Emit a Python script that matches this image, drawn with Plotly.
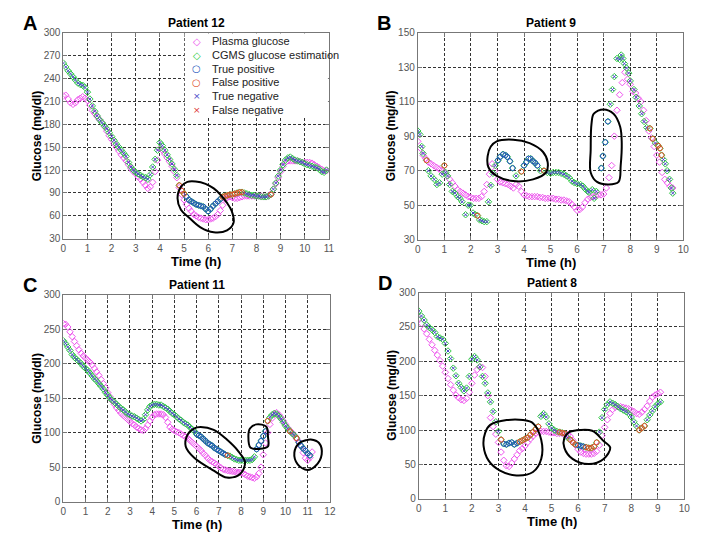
import numpy as np
import plotly.graph_objects as go

# ---------------- data ----------------
# Panel A - Patient 12, samples every 0.1 h from 0.0 h
a_plasma = [217, 218, 213, 208, 206, 208, 212, 214, 216, 214,
            211, 205, 198, 194, 190, 186, 182, 177, 171, 165,
            160, 155, 150, 145, 140, 136, 132, 127, 122, 118,
            115, 111, 108, 104, 100, 96, 98, 104, 118, 133,
            148, 146, 141, 136, 131, 125, 118, 110, 97, 88,
            81, 75, 70, 66, 62, 60, 58, 57, 56, 55,
            55, 56, 57, 59, 62, 67, 74, 82, 84, 85,
            84, 83, 83, 84, 85, 86, 86, 86, 86, 86,
            86, 86, 86, 85, 85, 86, 89, 95, 102, 110,
            118, 125, 130, 132, 132, 132, 132, 132, 131, 130,
            130, 130, 130, 129, 127, 125, 123, 121, 119, 119]
a_cgms = [260, 255, 250, 246, 242, 238, 234, 232, 231, 228,
          222, 213, 204, 197, 191, 186, 182, 178, 174, 169,
          164, 159, 154, 150, 146, 142, 138, 130, 124, 120,
          117, 115, 113, 111, 110, 108, 114, 124, 134, 146,
          156, 152, 146, 140, 134, 128, 121, 113, 100, 93,
          89, 85, 81, 79, 77, 75, 74, 73, 72, 69,
          66, 69, 73, 76, 79, 82, 85, 86, 87, 88,
          88, 89, 90, 91, 91, 90, 89, 88, 87, 87,
          86, 86, 85, 85, 85, 86, 88, 95, 103, 112,
          120, 127, 133, 136, 137, 135, 133, 132, 131, 130,
          128, 127, 126, 125, 124, 123, 121, 118, 117, 120]
# n = true negative, p = true positive, f = false positive, m = false negative
a_class = ("nnnnnnnnnn" "nnnnnnnnnn" "nnnnnnnnnn" "nnnnnnnnnn" "nnnnnnnnff"
           "fppppppppp" "ppppppffff" "fffffnnnnn" "nnnnnnfnnn" "nnnnnnnnnn"
           "nnnnnnnnnn")
a_loop_t = [5.48, 5.89, 6.23, 6.50, 6.78, 6.98, 7.05, 6.78, 6.23, 5.68, 5.20, 4.87, 4.73, 4.87, 5.14]
a_loop_g = [105, 102, 96, 88, 77, 66, 51, 41, 38.5, 45, 58, 68, 83, 98, 104.5]

# Panel B - Patient 9
b_plasma = [87, 83, 79, 77, 75, 74, 73, 72, 71, 70,
            69, 67, 65, 63, 61, 59, 58, 57, 56, 55,
            54.5, 54, 54, 54, 55, 58, 62, 68, 74, 70,
            65, 63.5, 63, 62.5, 62, 61, 60, 62, 61, 58,
            56, 55.5, 55, 55, 55, 55, 54.5, 54.5, 54, 54,
            54, 54, 53.5, 53.5, 53, 53, 52.5, 52, 50.5, 49,
            47, 47.5, 49, 51.5, 53.5, 54.5, 55, 55.5, 56, 56,
            56.5, 60, 66, 73, 90, 105, 114, 121, 127, 123,
            120, 116, 115, 112, 110, 105, 99, 93, 89, 84,
            79, 75, 69, 65, 63, 61, 60]
b_cgms_t = [0.00, 0.08, 0.15, 0.20, 0.33, 0.40, 0.50, 0.62, 0.72, 0.82,
            0.92, 1.00, 1.05, 1.12, 1.20, 1.30, 1.40, 1.50, 1.58, 1.67,
            1.80, 1.90, 1.98, 2.08, 2.17, 2.25, 2.33, 2.42, 2.50, 2.60,
            2.66, 2.75, 2.83, 2.92, 3.02, 3.10, 3.21, 3.30, 3.37, 3.47,
            3.57, 3.70, 3.90, 4.00, 4.09, 4.17, 4.25, 4.34, 4.42, 4.50,
            4.62, 4.75, 4.88, 5.00, 5.10, 5.20, 5.30, 5.40, 5.50, 5.60,
            5.70, 5.80, 5.90, 6.00, 6.13, 6.22, 6.30, 6.40, 6.45, 6.57,
            6.64, 6.72, 6.91, 6.97, 7.06, 7.16, 7.25, 7.33, 7.40, 7.50,
            7.60, 7.66, 7.72, 7.78, 7.86, 7.94, 8.00, 8.14, 8.22, 8.34,
            8.43, 8.52, 8.62, 8.74, 8.85, 8.95, 9.05, 9.12, 9.18, 9.25,
            9.32, 9.39, 9.48, 9.55, 9.60]
b_cgms = [93, 91, 84, 80, 76, 70, 67, 65, 62, 63,
          68, 73, 69, 67, 62, 58, 57, 55, 54, 52,
          44.5, 50, 50, 45.5, 44.5, 44, 41.5, 41, 40.5, 40.5,
          52, 61.5, 68.5, 73, 76, 78, 79.5, 79, 78, 75.5,
          71.5, 67, 69.5, 73, 75, 77, 77, 75.5, 74.5, 73,
          70, 70, 69, 68.5, 69, 69, 69, 68.5, 68, 67,
          66, 64, 63, 62.5, 62, 61, 59.5, 58, 57.5, 59,
          54, 58, 71.5, 78.5, 86.5, 98.5, 108.5, 117, 124.5, 135,
          134.5, 137, 135, 132, 129.5, 126.5, 122, 117, 112.5, 107.5,
          103, 98.5, 95, 94.5, 88.5, 86, 84.5, 83, 79, 76.5,
          74, 70, 65, 60, 57]
b_class = ("nnnnfnnnnn" "nfnnnnnnnn" "nnnnnfnnnn" "nnnnpppppp" "pnfppppppp"
           "nfnnnnnnnn" "nnnnnnnnnn" "nnppppnnnn" "nnnnnnnnnn" "nnnffnfffn"
           "nnnnn")
b_loop1_t = [2.63, 2.75, 2.97, 3.59, 4.21, 4.71, 4.89, 4.83, 4.34, 3.59, 2.97, 2.66]
b_loop1_g = [78.5, 84, 87, 88, 86, 81, 75, 69, 65, 64, 67, 72]
b_loop2_t = [6.54, 6.63, 7.00, 7.37, 7.62, 7.68, 7.64, 7.56, 7.19, 6.75, 6.51, 6.51]
b_loop2_g = [97, 103, 105.5, 103, 95.5, 86, 73, 63.5, 62, 63.5, 69, 82]

# Panel C - Patient 11
c_plasma = [258, 257, 253, 246, 239, 232, 226, 220, 215, 211,
            208, 205, 202, 198, 193, 188, 183, 177, 171, 165,
            158, 152, 146, 141, 136, 132, 128, 125, 122, 119,
            116, 113, 111, 108, 106, 104, 103, 106, 111, 117,
            122, 126, 127, 127, 127, 126, 122, 115, 108, 105,
            103, 101, 100, 98, 96, 94, 92, 89, 86, 83,
            80, 77, 74, 70, 67, 63, 60, 58, 56, 54,
            51, 49, 47, 46, 45, 44.5, 44, 43.5, 43, 42.5,
            42, 41, 39, 37, 36, 35, 34, 36, 41, 50,
            68, 85, 100, 112, 121, 127, 129, 126, 122, 117,
            112, 107, 103, 100, 96, 91, 87, 80, 71, 63,
            60, 64, 72]
c_cgms = [233, 229, 224, 219, 213, 209, 206, 203, 200, 196,
          193, 190, 186, 182, 178, 175, 171, 167, 163, 158,
          154, 150, 147, 144, 141, 138, 135, 133, 130, 127,
          126, 124, 123, 121, 119, 117, 119, 126, 133, 138,
          140, 141, 141, 140, 140, 138, 136, 134, 131, 128,
          126, 123, 120, 118, 115, 113, 111, 108, 105, 102,
          98, 96, 94, 91, 88, 85, 83, 81, 78, 76,
          74, 72, 70, 68, 67, 66, 64, 62, 61, 60,
          60, 60, 60, 60, 60, 61, 65, 76, 82, 88,
          95, 102, 117, 122, 126, 128, 127, 124, 120, 115,
          110, 106, 102, 99, 96, 92, 86, 81, 77, 74,
          70, 67]
c_class = ("nnnnnnnnnn" "nnnnnnnnnn" "nnnnnnnnnn" "nnnnnnnnnn" "nnnnnnnnnn"
           "nnnnnnnnnn" "pppppppppp" "ppppfnnnnn" "nnnnnnnppp" "ppfnnnnnnn"
           "nnfnnfpppp" "pp")
c_loop1_t = [5.59, 5.88, 6.18, 6.77, 7.36, 7.88, 8.18, 7.96, 7.36, 6.77, 5.88, 5.51]
c_loop1_g = [97, 106, 108, 104, 90, 73, 57, 40, 35, 45, 64, 80]
c_loop2_t = [8.40, 8.70, 9.14, 9.21, 9.21, 8.84, 8.43, 8.33]
c_loop2_g = [106, 112, 108.5, 94.5, 80, 76.5, 78, 94.5]
c_loop3_t = [10.62, 10.92, 11.14, 11.51, 11.63, 11.36, 10.99, 10.55, 10.40]
c_loop3_g = [85, 89, 90, 85, 68.5, 52, 46, 54, 71]

# Panel D - Patient 8
d_plasma = [262, 255, 247, 240, 232, 224, 216, 209, 201, 193,
            184, 175, 166, 158, 151, 147, 144, 143, 146, 155,
            168, 180, 188, 192, 191, 178, 150, 118, 105, 94,
            82, 68, 56, 48, 47, 52, 58, 64, 70, 73,
            77, 82, 87, 91, 95, 97, 98, 98, 98, 97,
            96, 96, 95, 95, 95, 94, 93, 91, 85, 78,
            72, 68, 66, 65, 65, 65, 66, 69, 78, 92,
            104, 115, 124, 130, 133, 134, 134, 133, 132, 131,
            129, 127, 124, 123, 126, 130, 135, 142, 148, 151,
            153, 155]
d_cgms = [273, 266, 260, 253, 249, 246, 242, 236, 234, 232,
          226, 215, 204, 190, 179, 168, 162, 157, 161, 178,
          203, 207, 202, 192, 178, 168, 154, 141, 127, 112,
          98, 86, 80, 79, 81, 82, 79, 81, 83, 85,
          87, 89, 93, 97, 101, 105, 120, 124, 119, 109,
          103, 100, 98, 97, 96, 95, 89, 86, 82, 79,
          78, 77, 76, 75, 74, 74, 76, 82, 97, 118,
          130, 137, 141, 139, 137, 134, 131, 129, 127, 124,
          119, 112, 106, 100, 103, 106, 115, 122, 128, 134,
          138, 141]
d_class = ("nnnnnnnnnn" "nnnnnnnnnn" "nnnnnnnnnn" "nfppppppff" "ffffffnnnn"
           "nnnfffnfff" "pppfffffnn" "nnnnnnnnnn" "nnnfffnnnn" "nn")
d_loop1_t = [2.50, 2.69, 3.31, 3.93, 4.30, 4.61, 4.61, 4.30, 3.68, 3.06, 2.63, 2.44]
d_loop1_g = [96, 107.5, 114.5, 114.5, 110, 86, 58, 39, 34, 41, 55.5, 77]
d_loop2_t = [5.66, 5.91, 6.53, 6.96, 7.21, 6.96, 6.41, 5.79, 5.48, 5.48]
d_loop2_g = [97, 99.5, 99, 84, 74.5, 58, 50.5, 58, 74.5, 88.5]

titles = ["Patient 12", "Patient 9", "Patient 11", "Patient 8"]
letters = ["A", "B", "C", "D"]
x_ranges = [(0, 11), (0, 10), (0, 12), (0, 10)]
y_ranges = [(30, 300, 30), (30, 150, 20), (0, 300, 50), (0, 300, 50)]
legend_labels = ["Plasma glucose", "CGMS glucose estimation", "True positive",
                 "False positive", "True negative", "False negative"]

# ---------------- styling ----------------
W, H = 718, 539            # target picture size
OFF = 8                    # default body margin of the html page
FW, FH = W - OFF, H - OFF  # figure size so the page content lands where the reference has it
FONT = "Liberation Sans, Arial, Helvetica, sans-serif"
C_PLASMA = "#ee55ee"
C_CGMS = "#33cc44"
C_TP = "#2255bb"
C_FP = "#e0502a"
C_TN = "#4a4ac8"
C_FN = "#dd3333"


def px(x):
    return (x - OFF) / FW


def py(y):
    return 1 - (y - OFF) / FH


# plot areas in window pixels (left, right, top, bottom)
areas = [(61, 330, 27, 238), (420, 689, 27, 239), (61, 331, 295, 507), (421, 690, 293, 504)]


def tgrid(n):
    return np.round(np.arange(n) * 0.1, 2)


panels = [
    dict(tp=tgrid(len(a_plasma)), gp=a_plasma, tc=tgrid(len(a_cgms)), gc=a_cgms, cls=a_class,
         loops=[(a_loop_t, a_loop_g)]),
    dict(tp=tgrid(len(b_plasma)), gp=b_plasma, tc=np.array(b_cgms_t), gc=b_cgms, cls=b_class,
         loops=[(b_loop1_t, b_loop1_g), (b_loop2_t, b_loop2_g)]),
    dict(tp=tgrid(len(c_plasma)), gp=c_plasma, tc=tgrid(len(c_cgms)), gc=c_cgms, cls=c_class,
         loops=[(c_loop1_t, c_loop1_g), (c_loop2_t, c_loop2_g), (c_loop3_t, c_loop3_g)]),
    dict(tp=tgrid(len(d_plasma)), gp=d_plasma, tc=tgrid(len(d_cgms)), gc=d_cgms, cls=d_class,
         loops=[(d_loop1_t, d_loop1_g), (d_loop2_t, d_loop2_g)]),
]

fig = go.Figure()
annotations = []
shapes = []

for i, p in enumerate(panels):
    k = "" if i == 0 else str(i + 1)
    xa, ya = "x" + k, "y" + k
    gc = np.array(p["gc"], dtype=float)
    tc = np.array(p["tc"], dtype=float)
    cls = np.array(list(p["cls"]))
    fig.add_trace(go.Scatter(x=p["tp"], y=p["gp"], mode="markers", xaxis=xa, yaxis=ya,
                             marker=dict(symbol="diamond-open", size=5, color=C_PLASMA,
                                         line=dict(width=1, color=C_PLASMA)),
                             showlegend=False, hoverinfo="skip"))
    fig.add_trace(go.Scatter(x=tc, y=gc, mode="markers", xaxis=xa, yaxis=ya,
                             marker=dict(symbol="diamond-open", size=5, color=C_CGMS,
                                         line=dict(width=1, color=C_CGMS)),
                             showlegend=False, hoverinfo="skip"))
    for code, sym, col, size in [("n", "x-thin-open", C_TN, 3), ("m", "x-thin-open", C_FN, 3),
                                 ("p", "circle-open", C_TP, 5), ("f", "circle-open", C_FP, 5)]:
        sel = cls == code
        if sel.any():
            fig.add_trace(go.Scatter(x=tc[sel], y=gc[sel], mode="markers", xaxis=xa, yaxis=ya,
                                     marker=dict(symbol=sym, size=size, color=col,
                                                 line=dict(width=1, color=col)),
                                     showlegend=False, hoverinfo="skip"))
    for lt, lg in p["loops"]:
        lt = list(lt) + [lt[0]]
        lg = list(lg) + [lg[0]]
        fig.add_trace(go.Scatter(x=lt, y=lg, mode="lines", xaxis=xa, yaxis=ya,
                                 line=dict(color="black", width=2, shape="spline", smoothing=1.0),
                                 showlegend=False, hoverinfo="skip"))

    l, r, t, b = areas[i]
    x0, x1 = x_ranges[i]
    y0, y1, dy = y_ranges[i]
    axis_common = dict(showline=True, linecolor="#777", linewidth=1, mirror="ticks",
                       ticks="inside", ticklen=4, tickcolor="#777",
                       showgrid=True, gridcolor="#333", griddash="3px,2px", gridwidth=1,
                       zeroline=False, tickfont=dict(family=FONT, size=10, color="#555"),
                       fixedrange=True)
    fig.update_layout(**{
        "xaxis" + k: dict(domain=[px(l), px(r)], range=[x0, x1], dtick=1, tick0=0,
                          anchor=ya, **axis_common),
        "yaxis" + k: dict(domain=[py(b), py(t)], range=[y0, y1], dtick=dy, tick0=y0,
                          anchor=xa, **axis_common),
    })
    cx = (l + r) / 2
    cy = (t + b) / 2
    title_y = t - 10
    annotations += [
        dict(text="<b>%s</b>" % titles[i], x=px(cx), y=py(title_y), xref="paper", yref="paper",
             showarrow=False, xanchor="center", yanchor="middle",
             font=dict(family=FONT, size=12, color="black")),
        dict(text="<b>%s</b>" % letters[i], x=px(l - 34), y=py(title_y), xref="paper", yref="paper",
             showarrow=False, xanchor="center", yanchor="middle",
             font=dict(family=FONT, size=20, color="black")),
        dict(text="<b>Time (h)</b>", x=px(cx), y=py(b + 23), xref="paper", yref="paper",
             showarrow=False, xanchor="center", yanchor="middle",
             font=dict(family=FONT, size=13, color="black")),
        dict(text="<b>Glucose (mg/dl)</b>", x=px(l - 27), y=py(cy), xref="paper", yref="paper",
             showarrow=False, xanchor="center", yanchor="middle", textangle=-90,
             font=dict(family=FONT, size=12, color="black")),
    ]

# legend (panel A), drawn as text on a white patch
shapes.append(dict(type="rect", xref="paper", yref="paper", x0=px(184), x1=px(329),
                   y0=py(113), y1=py(28), fillcolor="white", line=dict(width=0), layer="above"))
leg_syms = [("\u25C7", C_PLASMA, 10), ("\u25C7", C_CGMS, 10), ("\u25CB", C_TP, 10),
            ("\u25CB", C_FP, 10), ("\u00D7", C_TN, 9), ("\u00D7", C_FN, 9)]
for j, label in enumerate(legend_labels):
    yy = 36 + 14 * j
    s, col, fs = leg_syms[j]
    annotations.append(dict(text=s, x=px(196), y=py(yy), xref="paper", yref="paper",
                            showarrow=False, xanchor="center", yanchor="middle",
                            font=dict(family="DejaVu Sans", size=fs, color=col)))
    annotations.append(dict(text=label, x=px(210), y=py(yy), xref="paper", yref="paper",
                            showarrow=False, xanchor="left", yanchor="middle",
                            font=dict(family=FONT, size=11, color="#222")))

fig.update_layout(width=FW, height=FH, margin=dict(l=0, r=0, t=0, b=0),
                  paper_bgcolor="white", plot_bgcolor="white",
                  annotations=annotations, shapes=shapes, showlegend=False)

fig.write_html("out.html")
